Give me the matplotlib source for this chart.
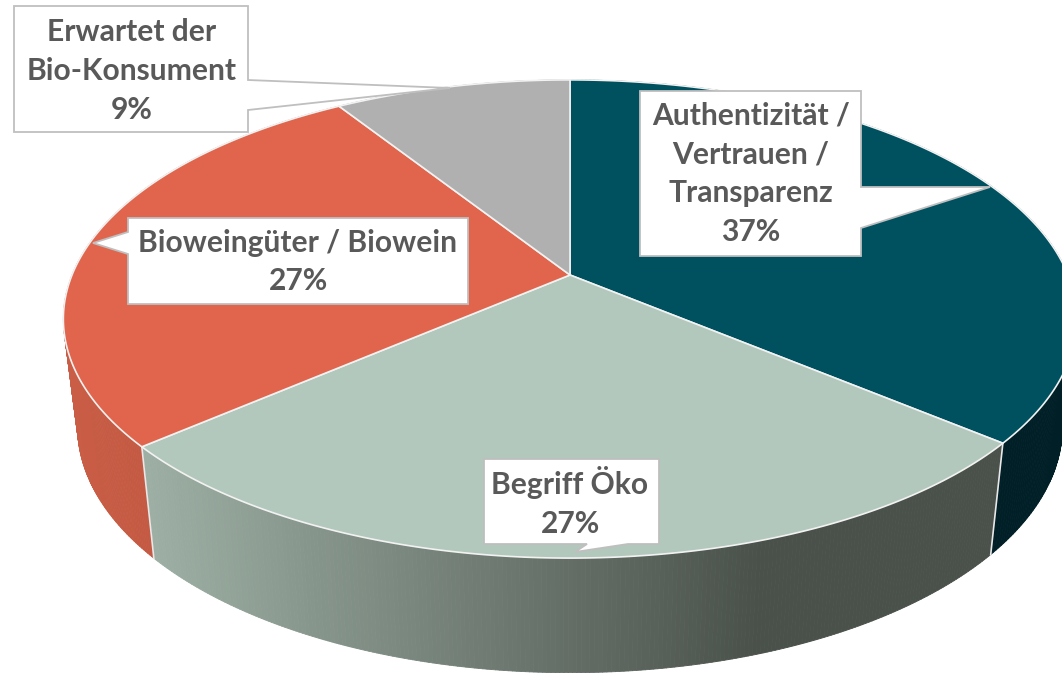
import numpy as np
import matplotlib
matplotlib.use("Agg")
import matplotlib.pyplot as plt
from matplotlib.collections import PolyCollection
from matplotlib.colors import LinearSegmentedColormap
from matplotlib.patches import Polygon

# slice names and the percentages printed on the chart
categories = ["Authentizität /\nVertrauen /\nTransparenz", "Begriff Öko",
              "Bioweingüter / Biowein", "Erwartet der\nBio-Konsument"]
percent_labels = ["37%", "27%", "27%", "9%"]
shares = [36.1, 27.55, 27.35, 9.0]

top_colors = ["#005160", "#B3C8BC", "#E1654D", "#B0B0B0"]

# wall colours, left to right across the wall
wall_cmaps = [
    LinearSegmentedColormap.from_list("w0", ["#002027", "#001F26"]),
    LinearSegmentedColormap.from_list("w1", [(0, "#9DAFA4"), (0.72, "#4A514B"), (1, "#4A514B")]),
    LinearSegmentedColormap.from_list("w2", ["#C95D45", "#B8523D"]),
    LinearSegmentedColormap.from_list("w3", ["#8A8A8A", "#8A8A8A"]),
]

CX = 570
K = 0.184


# perspective projection of the pie disc, angle clockwise from the top
def project(angle, half_w, half_h, y0):
    u, v = np.sin(angle), np.cos(angle)
    w = 1 + K * v
    return CX + half_w * u / w, y0 - half_h * v / w


def top_face(angle):
    return project(angle, 498, 231, 275)


def bottom_face(angle):
    return project(angle, 484, 237.6, 381.5)


fig = plt.figure(figsize=(10.62, 6.73), dpi=100)
ax = fig.add_axes([0, 0, 1, 1])
ax.set_xlim(0, 1062)
ax.set_ylim(673, 0)
ax.axis("off")

edges = np.radians(np.concatenate([[0], np.cumsum(shares)]) * 3.6)

# side walls first, the top disc covers whatever is behind it
for i in range(len(shares)):
    a = np.linspace(edges[i], edges[i + 1], 240)
    tx, ty = top_face(a)
    bx, by = bottom_face(a)
    quads = []
    for j in range(len(a) - 1):
        quads.append([(tx[j], ty[j]), (tx[j + 1], ty[j + 1]), (bx[j + 1], by[j + 1]), (bx[j], by[j])])
    mid = (tx[:-1] + bx[:-1]) / 2
    span = mid.max() - mid.min()
    pos = (mid - mid.min()) / span
    cols = wall_cmaps[i](pos)
    ax.add_collection(PolyCollection(quads, facecolors=cols, edgecolors=cols, linewidths=0.6, zorder=1))

# white seams on the front walls
for e in edges[1:3]:
    tx, ty = top_face(e)
    bx, by = bottom_face(e)
    ax.plot([tx, bx], [ty, by], color="#E8E8E8", lw=1.2, zorder=2)

# top disc
for i in range(len(shares)):
    a = np.linspace(edges[i], edges[i + 1], 200)
    x, y = top_face(a)
    pts = [(CX, 275)] + list(zip(x, y))
    ax.add_patch(Polygon(pts, closed=True, facecolor=top_colors[i], edgecolor="#F2F2F2", lw=1.2, zorder=3, joinstyle="round"))

# callout outlines
callouts = [
    [(640, 91), (861, 91), (861, 187), (990, 187), (861, 228), (861, 256), (640, 256)],
    [(484, 459), (659, 459), (659, 544), (628, 544), (575, 552), (587, 544), (484, 544)],
    [(128, 218), (468, 218), (468, 304), (128, 304), (128, 254), (93, 243), (128, 232)],
    [(14, 6), (248, 6), (248, 80), (450, 88), (248, 110), (248, 132), (14, 132)],
]
label_pos = [(751, 174), (570, 502), (298, 262), (132, 71)]
for i in range(len(categories)):
    ax.add_patch(Polygon(callouts[i], closed=True, facecolor="white", edgecolor="#BFBFBF", lw=1.3, zorder=4))
    ax.text(label_pos[i][0], label_pos[i][1], categories[i] + "\n" + percent_labels[i],
            ha="center", va="center", fontsize=21.6, family="Lato", fontweight="bold",
            color="#595959", linespacing=1.47, zorder=5)

plt.savefig("out.png", dpi=100)
